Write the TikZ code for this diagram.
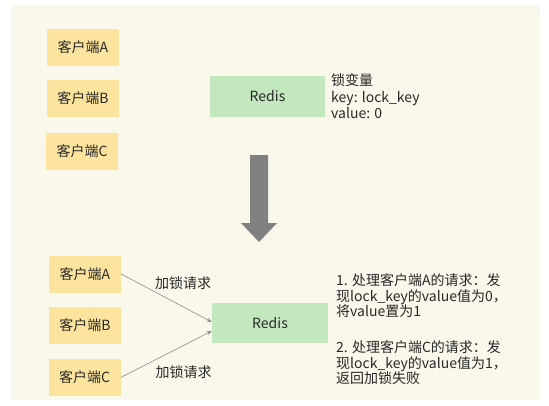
\documentclass[tikz,border=0pt]{standalone}
\usepackage{fontspec}
\setmainfont{Noto Sans CJK SC}
\usetikzlibrary{arrows.meta}
\definecolor{bgc}{RGB}{250,247,235}
\definecolor{yel}{RGB}{253,228,158}
\definecolor{grn}{RGB}{196,232,190}
\definecolor{txt}{RGB}{40,40,40}
\definecolor{bigarrow}{RGB}{128,128,128}
\definecolor{thinarrow}{RGB}{140,140,140}
\begin{document}
\begin{tikzpicture}[x=1pt,y=-1pt,
  every node/.style={text=txt, font=\fontsize{14}{16}\selectfont},
  client/.style={fill=yel, minimum width=72pt, minimum height=37pt, inner sep=0pt},
  redisbox/.style={fill=grn, minimum width=115pt, minimum height=41pt, inner sep=0pt},
  note/.style={anchor=north west, align=left, inner sep=0pt, font=\fontsize{14}{15.7}\selectfont},
  req/.style={thinarrow, line width=0.6pt, -{Stealth[length=5pt,width=4pt]}},
  lbl/.style={inner sep=0pt}
]
\useasboundingbox (0,0) rectangle (549,405);
\fill[white] (0,0) rectangle (549,405);
\fill[bgc] (11,5) rectangle (540,400);

% top part
\node[client] (ta) at (83,47.5) {客户端A};
\node[client] (tb) at (83,98.5) {客户端B};
\node[client] (tc) at (82,151) {客户端C};
\node[redisbox] (tr) at (267.5,96.5) {Redis};
\node[note, font=\fontsize{14}{16.5}\selectfont] (tv) at (331,73.5) {锁变量\\key: lock\_key\\value: 0};

% big arrow
\fill[bigarrow] (250,155) -- (268,155) -- (268,223) -- (277,223) -- (259,242) -- (241,223) -- (250,223) -- cycle;

% bottom part
\node[client] (ba) at (85,274) {客户端A};
\node[client] (bb) at (85,325) {客户端B};
\node[client] (bc) at (84.5,377.5) {客户端C};
\node[redisbox, minimum width=116pt, minimum height=40pt] (br) at (270,323) {Redis};

\coordinate (ea) at ([yshift=1pt]br.west);
\coordinate (ec) at ([yshift=-8pt]br.west);
\draw[req] (ba.east) -- (ea);
\draw[req] (bc.east) -- (ec);
\node[lbl] (la) at (183,283) {加锁请求};
\node[lbl] (lc) at (183.5,372) {加锁请求};

\node[note] (n1) at (336,273.5) {1. 处理客户端A的请求：发\\现lock\_key的value值为0，\\将value置为1};
\node[note] (n2) at (336,340.5) {2. 处理客户端C的请求：发\\现lock\_key的value值为1，\\返回加锁失败};
\end{tikzpicture}
\end{document}
